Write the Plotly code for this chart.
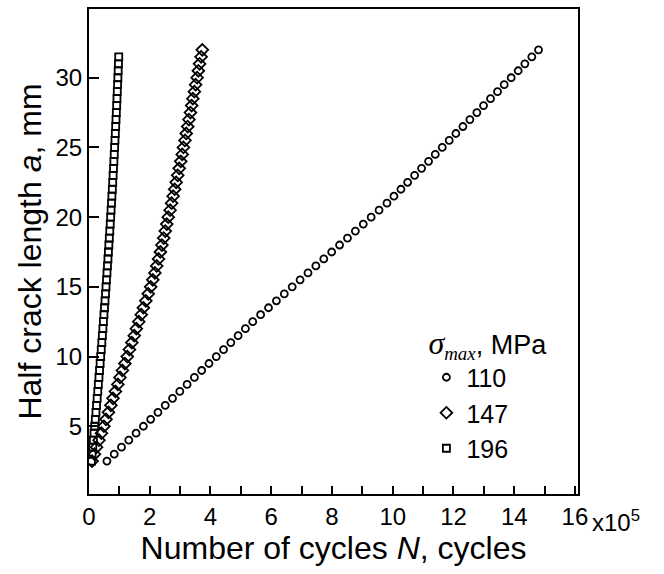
import plotly.graph_objects as go

# crack length a (mm) -- same sampling for every series
a_110 = [2.5, 3.0, 3.5, 4.0, 4.5, 5.0, 5.5, 6.0, 6.5, 7.0, 7.5, 8.0, 8.5, 9.0, 9.5,
         10.0, 10.5, 11.0, 11.5, 12.0, 12.5, 13.0, 13.5, 14.0, 14.5, 15.0, 15.5, 16.0,
         16.5, 17.0, 17.5, 18.0, 18.5, 19.0, 19.5, 20.0, 20.5, 21.0, 21.5, 22.0, 22.5,
         23.0, 23.5, 24.0, 24.5, 25.0, 25.5, 26.0, 26.5, 27.0, 27.5, 28.0, 28.5, 29.0,
         29.5, 30.0, 30.5, 31.0, 31.5, 32.0]
N_110 = [0.59, 0.83, 1.07, 1.31, 1.55, 1.79, 2.03, 2.27, 2.51, 2.75, 2.99, 3.23, 3.47,
         3.71, 3.95, 4.19, 4.43, 4.67, 4.91, 5.15, 5.39, 5.65, 5.91, 6.17, 6.43, 6.69,
         6.95, 7.21, 7.47, 7.73, 7.99, 8.25, 8.51, 8.77, 9.03, 9.29, 9.55, 9.81, 10.04,
         10.27, 10.49, 10.72, 10.95, 11.18, 11.40, 11.63, 11.86, 12.08, 12.31, 12.54,
         12.77, 12.99, 13.22, 13.45, 13.67, 13.90, 14.13, 14.35, 14.58, 14.80]

a_147 = [2.5, 3.0, 3.5, 4.0, 4.5, 5.0, 5.5, 6.0, 6.5, 7.0, 7.5, 8.0, 8.5, 9.0, 9.5,
         10.0, 10.5, 11.0, 11.5, 12.0, 12.5, 13.0, 13.5, 14.0, 14.5, 15.0, 15.5, 16.0,
         16.5, 17.0, 17.5, 18.0, 18.5, 19.0, 19.5, 20.0, 20.5, 21.0, 21.5, 22.0, 22.5,
         23.0, 23.5, 24.0, 24.5, 25.0, 25.5, 26.0, 26.5, 27.0, 27.5, 28.0, 28.5, 29.0,
         29.5, 30.0, 30.5, 31.0, 31.5, 32.0]
N_147 = [0.10, 0.18, 0.25, 0.33, 0.41, 0.49, 0.56, 0.64, 0.72, 0.79, 0.87, 0.95, 1.02,
         1.10, 1.18, 1.26, 1.33, 1.41, 1.49, 1.56, 1.64, 1.72, 1.79, 1.87, 1.95, 2.03,
         2.10, 2.17, 2.23, 2.29, 2.35, 2.40, 2.46, 2.51, 2.56, 2.61, 2.67, 2.72, 2.77,
         2.82, 2.87, 2.92, 2.97, 3.02, 3.07, 3.11, 3.16, 3.20, 3.25, 3.29, 3.34, 3.38,
         3.42, 3.47, 3.51, 3.56, 3.60, 3.64, 3.69, 3.73]

a_196 = [2.5, 3.0, 3.5, 4.0, 4.5, 5.0, 5.5, 6.0, 6.5, 7.0, 7.5, 8.0, 8.5, 9.0, 9.5,
         10.0, 10.5, 11.0, 11.5, 12.0, 12.5, 13.0, 13.5, 14.0, 14.5, 15.0, 15.5, 16.0,
         16.5, 17.0, 17.5, 18.0, 18.5, 19.0, 19.5, 20.0, 20.5, 21.0, 21.5, 22.0, 22.5,
         23.0, 23.5, 24.0, 24.5, 25.0, 25.5, 26.0, 26.5, 27.0, 27.5, 28.0, 28.5, 29.0,
         29.5, 30.0, 30.5, 31.0, 31.5]
N_196 = [0.080, 0.102, 0.124, 0.145, 0.166, 0.187, 0.208, 0.229, 0.249, 0.269, 0.289,
         0.308, 0.328, 0.347, 0.366, 0.385, 0.403, 0.422, 0.440, 0.458, 0.475, 0.493,
         0.510, 0.527, 0.544, 0.560, 0.576, 0.592, 0.608, 0.624, 0.639, 0.654, 0.669,
         0.684, 0.699, 0.713, 0.727, 0.741, 0.754, 0.768, 0.781, 0.794, 0.806, 0.819,
         0.831, 0.843, 0.855, 0.867, 0.878, 0.889, 0.900, 0.911, 0.921, 0.931, 0.941,
         0.951, 0.961, 0.970, 0.979]

x_tickvals = list(range(0, 17))
x_ticktext = ["0", "", "2", "", "4", "", "6", "", "8", "", "10", "", "12", "", "14", "", "16"]
y_tickvals = [5, 10, 15, 20, 25, 30]

FONT = "Liberation Sans, Arial, Helvetica, sans-serif"

fig = go.Figure()
series = [
    ("110", N_110, a_110, "circle-open", 7),
    ("147", N_147, a_147, "diamond-open", 9),
    ("196", N_196, a_196, "square-open", 7),
]
for name, xs, ys, sym, sz in series:
    fig.add_trace(go.Scatter(
        x=xs, y=ys, mode="markers", name=name,
        marker=dict(symbol=sym, size=sz, color="black", line=dict(width=1.8, color="black")),
    ))

axis_common = dict(
    showline=True, linewidth=2, linecolor="black", mirror=True,
    showgrid=False, zeroline=False, ticks="inside", tickcolor="black",
    tickwidth=1.5, tickfont=dict(family=FONT, size=24, color="black"),
)

fig.update_layout(
    width=664, height=574,
    margin=dict(l=89, r=86, t=7, b=80),
    paper_bgcolor="white", plot_bgcolor="white",
    font=dict(family=FONT, color="black"),
    xaxis=dict(range=[0, 16.1], tickmode="array", tickvals=x_tickvals, ticktext=x_ticktext,
               ticklen=8,
               title=dict(text="Number of cycles <i>N</i>, cycles",
                          font=dict(family=FONT, size=32, color="black"), standoff=3),
               **axis_common),
    yaxis=dict(range=[0.14, 34.93], tickmode="array", tickvals=y_tickvals,
               ticklen=10,
               title=dict(text="Half crack length <i>a</i>, mm",
                          font=dict(family=FONT, size=32, color="black"), standoff=4),
               **axis_common),
    legend=dict(
        x=0.69, y=0.36, xanchor="left", yanchor="top",
        bgcolor="rgba(0,0,0,0)", borderwidth=0,
        font=dict(family=FONT, size=25, color="black"),
        title=dict(text='<span style="font-family:Liberation Serif;font-size:32px"><i>σ</i></span>'
                        '<span style="font-family:Liberation Serif"><sub><i>max</i></sub></span>, MPa',
                   font=dict(family=FONT, size=27, color="black")),
        itemsizing="trace",
    ),
    showlegend=True,
)

fig.add_annotation(
    text="x10<sup>5</sup>", xref="paper", yref="paper", x=1.0, y=0,
    xanchor="left", yanchor="top", xshift=12, yshift=-10, showarrow=False,
    font=dict(family=FONT, size=24, color="black"),
)

fig.write_html("out.html")
